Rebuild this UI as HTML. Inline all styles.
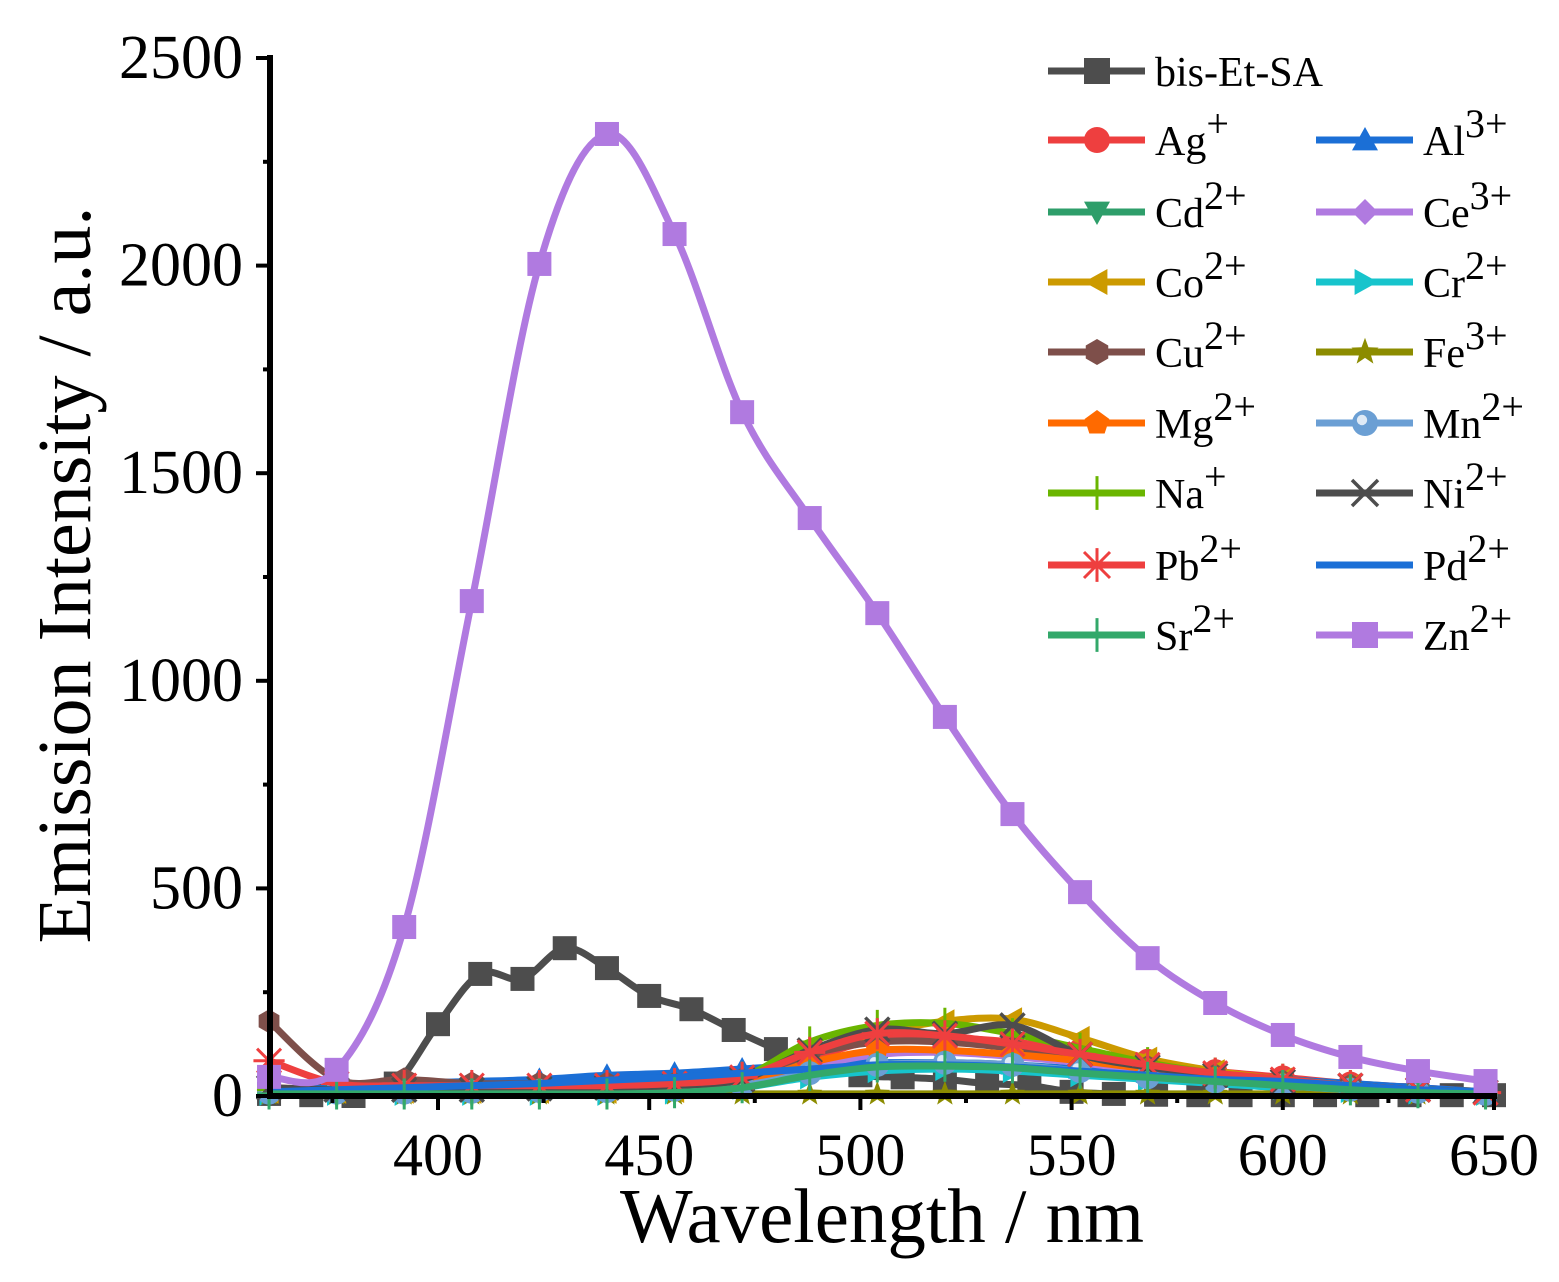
<!DOCTYPE html>
<html><head><meta charset="utf-8"><style>
body{margin:0;background:#fff;}
svg{display:block;font-family:"Liberation Serif",serif;}
</style></head><body>
<svg id="chart" width="1559" height="1282" viewBox="0 0 1559 1282" xmlns="http://www.w3.org/2000/svg">
<g id="plot"></g>
<g id="axes"></g>
<g id="legend"></g>
</svg>
<script>
const ionX = [360,376,392,408,424,440,456,472,488,504,520,536,552,568,584,600,616,632,648];
const bisX = [360,370,380,390,400,410,420,430,440,450,460,470,480,490,500,510,520,530,540,550,560,570,580,590,600,610,620,630,640,650];
const bisY = [5,2,0,30,173,294,282,356,308,241,209,159,113,75,50,45,40,30,25,10,5,3,2,2,2,2,2,2,2,2];
const znY = [46,63,407,1192,2004,2317,2076,1647,1392,1163,913,679,491,332,224,147,94,60,36];
const agY = [20,15,15,18,20,22,25,35,90,135,140,130,110,85,60,45,30,20,10];
const alY = [15,20,30,35,40,50,55,65,75,80,80,75,65,55,50,40,30,20,10];
const cdY = [5,5,5,5,5,5,8,20,50,75,80,75,60,45,30,20,10,5,3];
const ceY = [10,10,10,12,15,18,20,30,70,100,105,95,80,60,40,30,20,10,5];
const coY = [10,10,10,10,10,10,12,30,100,150,180,185,140,90,60,40,25,15,10];
const crY = [5,5,5,5,5,5,8,20,45,60,65,60,50,40,30,20,12,8,5];
const cuY = [180,40,40,30,30,30,30,40,100,130,130,115,95,70,50,35,25,15,10];
const feY = [5,5,5,5,5,5,5,5,5,5,5,5,5,5,5,5,5,5,5];
const mgY = [10,10,10,12,15,15,18,30,80,110,110,100,85,65,45,30,20,10,5];
const mnY = [8,8,8,10,12,12,15,25,55,75,80,75,60,45,35,25,15,10,5];
const naY = [15,15,15,15,18,20,25,45,130,170,175,150,115,80,55,40,25,15,10];
const niY = [20,15,15,15,18,20,25,40,110,160,150,170,100,70,50,35,25,15,10];
const pbY = [85,30,25,25,25,25,30,45,105,150,145,125,100,75,55,40,25,15,8];
const pdY = [10,15,20,25,30,38,45,55,65,75,75,70,60,50,40,35,25,15,10];
const srY = [5,5,5,5,5,5,8,20,50,70,72,68,55,45,35,25,15,8,5];
const xTicks = [400,450,500,550,600,650];
const yTicks = [0,500,1000,1500,2000,2500];

const NS="http://www.w3.org/2000/svg";
const X0=270, Y0=1096;
const sx = v => 438 + (v-400)*4.224;
const sy = v => Y0 - v*0.4152;
function mk(tag, attrs, parent){const e=document.createElementNS(NS,tag);for(const k in attrs)e.setAttribute(k,attrs[k]);parent.appendChild(e);return e;}
function smooth(pts){let d=`M${pts[0][0]},${pts[0][1]}`;for(let i=0;i<pts.length-1;i++){const p0=pts[Math.max(0,i-1)],p1=pts[i],p2=pts[i+1],p3=pts[Math.min(pts.length-1,i+2)];d+=` C${p1[0]+(p2[0]-p0[0])/6},${p1[1]+(p2[1]-p0[1])/6} ${p2[0]-(p3[0]-p1[0])/6},${p2[1]-(p3[1]-p1[1])/6} ${p2[0]},${p2[1]}`;}return d;}
function marker(g,type,x,y,c,s){
  s=s||12;
  if(type==='sq') return mk('rect',{x:x-s,y:y-s,width:2*s,height:2*s,fill:c},g);
  if(type==='circ') return mk('circle',{cx:x,cy:y,r:s,fill:c},g);
  if(type==='tri') return mk('polygon',{points:`${x},${y-s} ${x+s},${y+s*0.8} ${x-s},${y+s*0.8}`,fill:c},g);
  if(type==='dtri') return mk('polygon',{points:`${x},${y+s} ${x+s},${y-s*0.8} ${x-s},${y-s*0.8}`,fill:c},g);
  if(type==='ltri') return mk('polygon',{points:`${x-s},${y} ${x+s*0.8},${y-s} ${x+s*0.8},${y+s}`,fill:c},g);
  if(type==='rtri') return mk('polygon',{points:`${x+s},${y} ${x-s*0.8},${y-s} ${x-s*0.8},${y+s}`,fill:c},g);
  if(type==='dia') return mk('polygon',{points:`${x},${y-s} ${x+s},${y} ${x},${y+s} ${x-s},${y}`,fill:c},g);
  if(type==='hex'){let p=[];for(let i=0;i<6;i++){const a=Math.PI/3*i+Math.PI/6;p.push((x+s*Math.cos(a))+','+(y+s*Math.sin(a)));}return mk('polygon',{points:p.join(' '),fill:c},g);}
  if(type==='pent'){let p=[];for(let i=0;i<5;i++){const a=-Math.PI/2+2*Math.PI/5*i;p.push((x+s*Math.cos(a))+','+(y+s*Math.sin(a)));}return mk('polygon',{points:p.join(' '),fill:c},g);}
  if(type==='star'){let p=[];for(let i=0;i<10;i++){const r=i%2?s*0.45:s*1.1;const a=-Math.PI/2+Math.PI/5*i;p.push((x+r*Math.cos(a))+','+(y+r*Math.sin(a)));}return mk('polygon',{points:p.join(' '),fill:c},g);}
  if(type==='plus') return mk('path',{d:`M${x-s},${y}H${x+s}M${x},${y-s*1.3}V${y+s*1.3}`,stroke:c,'stroke-width':3,fill:'none'},g);
  if(type==='x') return mk('path',{d:`M${x-s},${y-s}L${x+s},${y+s}M${x-s},${y+s}L${x+s},${y-s}`,stroke:c,'stroke-width':3.5,fill:'none'},g);
  if(type==='ast') return mk('path',{d:`M${x-s},${y-s}L${x+s},${y+s}M${x-s},${y+s}L${x+s},${y-s}M${x},${y-s*1.3}V${y+s*1.3}M${x-s*1.3},${y}H${x+s*1.3}`,stroke:c,'stroke-width':3,fill:'none'},g);
  if(type==='ball'){mk('circle',{cx:x,cy:y,r:s,fill:c},g);return mk('circle',{cx:x-3,cy:y-3,r:s*0.4,fill:'#dfeaf6'},g);}
  if(type==='none') return null;
}
const series=[
 {key:'bis-Et-SA',sup:'',x:bisX,y:bisY,c:'#4d4d4d',m:'sq',name:'series-bis-et-sa'},
 {key:'Ag',sup:'+',x:ionX,y:agY,c:'#ee3f3f',m:'circ',name:'series-ag'},
 {key:'Al',sup:'3+',x:ionX,y:alY,c:'#1b6fd6',m:'tri',name:'series-al'},
 {key:'Cd',sup:'2+',x:ionX,y:cdY,c:'#2e9e6a',m:'dtri',name:'series-cd'},
 {key:'Ce',sup:'3+',x:ionX,y:ceY,c:'#b07ae0',m:'dia',name:'series-ce'},
 {key:'Co',sup:'2+',x:ionX,y:coY,c:'#cc9a00',m:'ltri',name:'series-co'},
 {key:'Cr',sup:'2+',x:ionX,y:crY,c:'#17c4cc',m:'rtri',name:'series-cr'},
 {key:'Cu',sup:'2+',x:ionX,y:cuY,c:'#7e4f4a',m:'hex',name:'series-cu'},
 {key:'Fe',sup:'3+',x:ionX,y:feY,c:'#8c8c00',m:'star',name:'series-fe'},
 {key:'Mg',sup:'2+',x:ionX,y:mgY,c:'#ff6a00',m:'pent',name:'series-mg'},
 {key:'Mn',sup:'2+',x:ionX,y:mnY,c:'#6b9fd4',m:'ball',name:'series-mn'},
 {key:'Na',sup:'+',x:ionX,y:naY,c:'#6ab500',m:'plus',name:'series-na'},
 {key:'Ni',sup:'2+',x:ionX,y:niY,c:'#4d4d4d',m:'x',name:'series-ni'},
 {key:'Pb',sup:'2+',x:ionX,y:pbY,c:'#ee3f3f',m:'ast',name:'series-pb'},
 {key:'Pd',sup:'2+',x:ionX,y:pdY,c:'#1b6fd6',m:'none',name:'series-pd'},
 {key:'Sr',sup:'2+',x:ionX,y:srY,c:'#33a86a',m:'plus',name:'series-sr'},
 {key:'Zn',sup:'2+',x:ionX,y:znY,c:'#b07ae0',m:'sq',name:'series-zn'}
];
const plot=document.getElementById('plot');
series.forEach(s=>{
  const g=mk('g',{},plot);
  
  
  const pts=s.x.map((v,i)=>[sx(v),sy(s.y[i])]);
  mk('path',{d:smooth(pts),fill:'none',stroke:s.c,'stroke-width':7,'stroke-linejoin':'round'},g);
  pts.forEach(p=>{const e=marker(g,s.m,p[0],p[1],s.c); if(e){}});
});
const ax=document.getElementById('axes');
mk('line',{x1:X0,y1:55,x2:X0,y2:Y0+3,stroke:'#000','stroke-width':6},ax);
mk('line',{x1:X0-3,y1:Y0,x2:1497,y2:Y0,stroke:'#000','stroke-width':6},ax);
for(let v=0;v<=2500;v+=250){const y=sy(v);mk('line',{x1:X0-(v%500?7:14),y1:y,x2:X0,y2:y,stroke:'#000','stroke-width':4},ax);}
yTicks.forEach(v=>{const t=mk('text',{x:243,y:sy(v)+20,'text-anchor':'end','font-size':62},ax);t.textContent=v;});
for(let v=375;v<=650;v+=25){const x=sx(v);mk('line',{x1:x,y1:Y0,x2:x,y2:Y0+(v%50?7:14),stroke:'#000','stroke-width':4},ax);}
xTicks.forEach(v=>{const t=mk('text',{x:sx(v),y:1175,'text-anchor':'middle','font-size':60},ax);t.textContent=v;});
const xt=mk('text',{x:882,y:1242,'text-anchor':'middle','font-size':77},ax);xt.textContent='Wavelength / nm';

const yt=mk('text',{x:0,y:0,'text-anchor':'middle','font-size':76,transform:'translate(90,575) rotate(-90)'},ax);yt.textContent='Emission Intensity / a.u.';

const lg=document.getElementById('legend');
const rows=[71,140,212,282,352,423,493,565,635];
series.forEach((s,i)=>{
  let lx,ly;
  if(i===0){lx=1048;ly=rows[0];}
  else{const r=Math.floor((i-1)/2)+1, c=(i-1)%2; lx=c?1316:1048; ly=rows[r];}
  const g=mk('g',{},lg);
  
  
  mk('line',{x1:lx,y1:ly,x2:lx+97,y2:ly,stroke:s.c,'stroke-width':7},g);
  marker(g,s.m,lx+49,ly,s.c,13);
  const t=mk('text',{x:lx+107,y:ly+15,'font-size':42},g);
  t.textContent=s.key;
  if(s.sup){const ts=mk('tspan',{dy:-18,'font-size':40},t);ts.textContent=s.sup;}
});
</script>
</body></html>
